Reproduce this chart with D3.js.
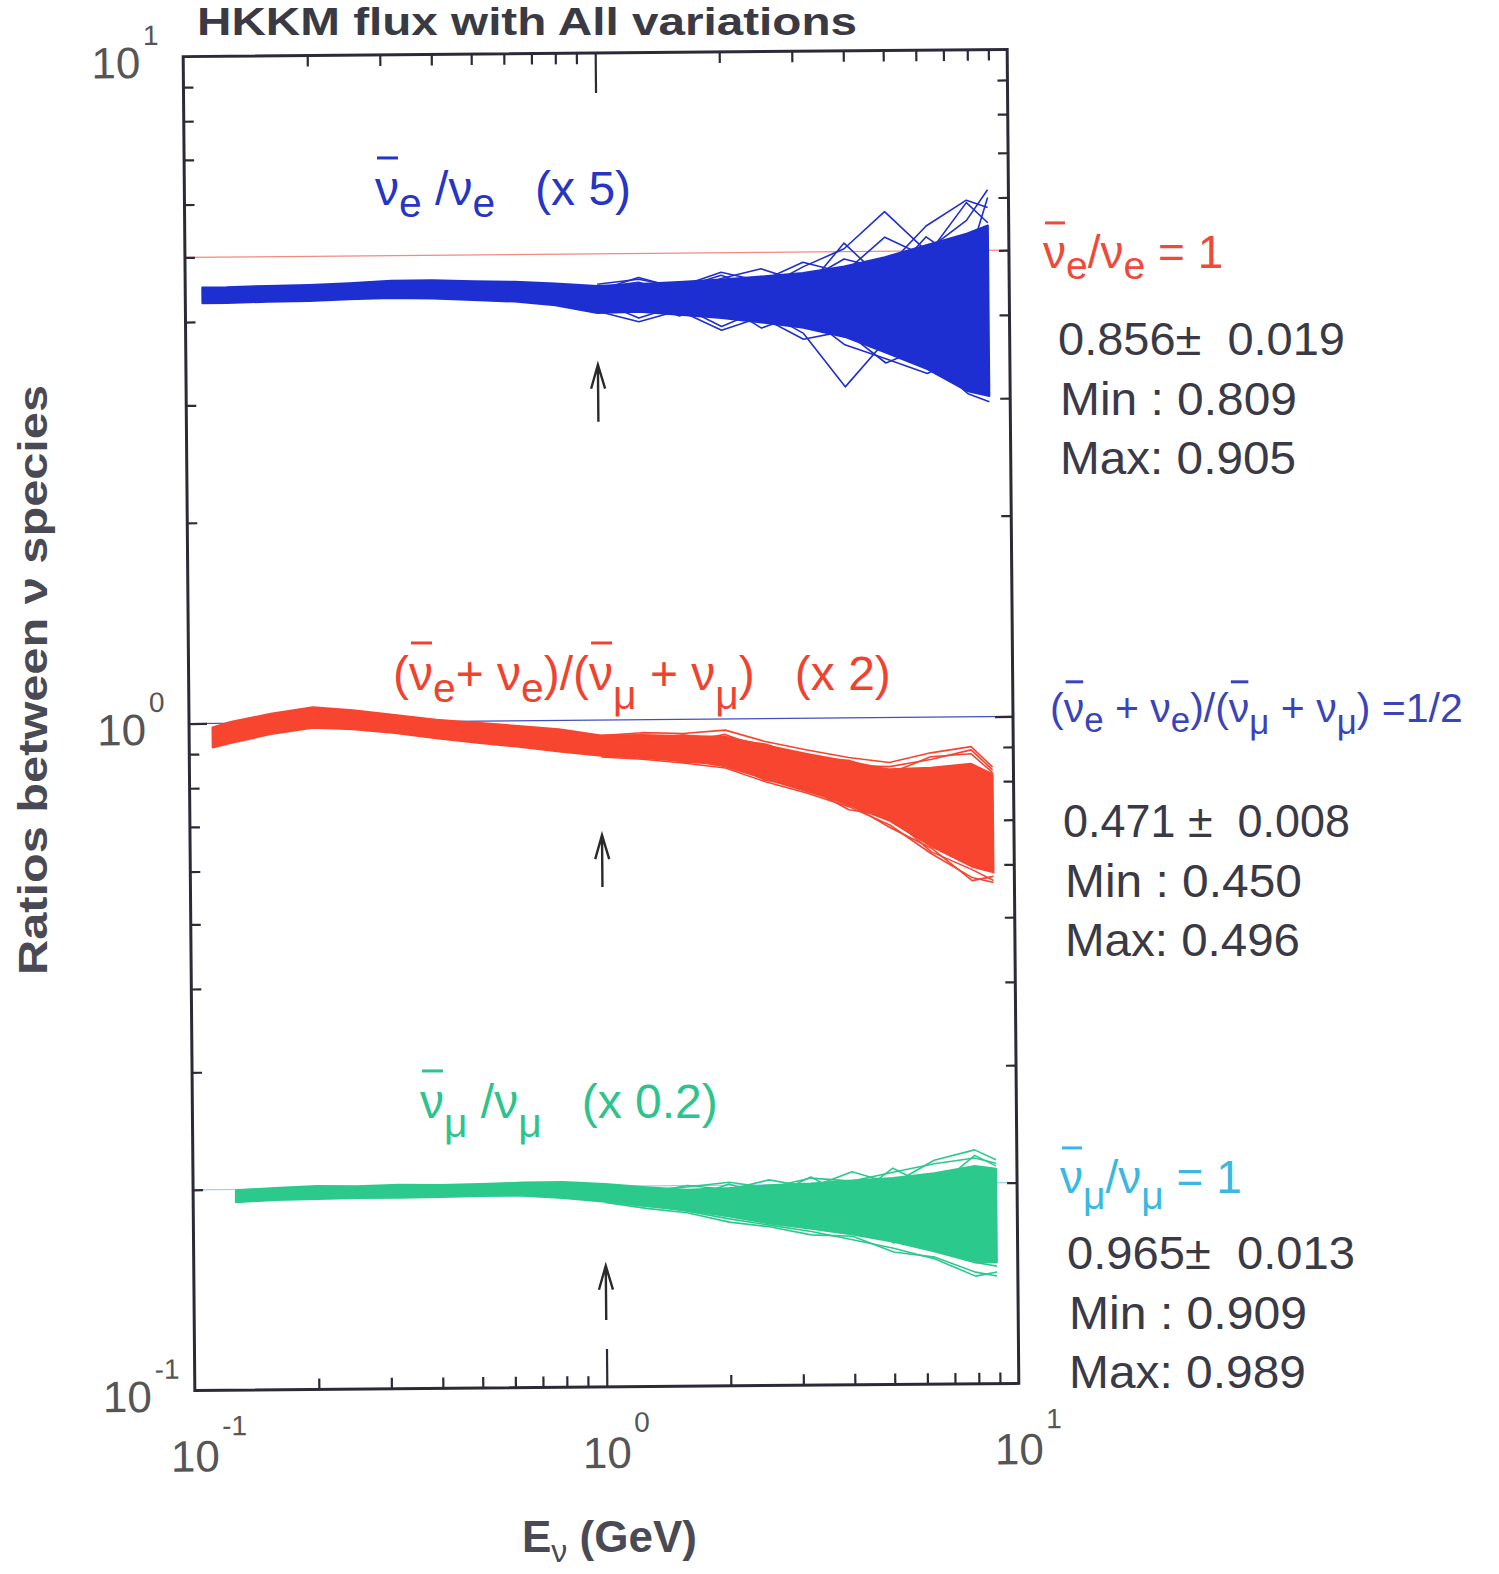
<!DOCTYPE html>
<html>
<head>
<meta charset="utf-8">
<script src="https://cdn.jsdelivr.net/npm/d3@7"></script>
<style>
  body { margin: 0; background: #fff; }
  text { font-family: "Liberation Sans", Arial, sans-serif; white-space: pre; }
</style>
</head>
<body>
<script>
// Energy grids (GeV) for each ratio bundle
const eBlue  = [0.11, 0.126, 0.158, 0.2, 0.25, 0.316, 0.398, 0.5, 0.63, 0.79, 1.0, 1.26, 1.58, 2.0, 2.5, 3.16, 3.98, 5.0, 6.3, 7.9, 8.9];
const eRed   = [0.114, 0.126, 0.158, 0.2, 0.25, 0.316, 0.398, 0.5, 0.63, 0.79, 1.0, 1.26, 1.58, 2.0, 2.5, 3.16, 3.98, 5.0, 6.3, 7.9, 8.9];
const eGreen = [0.127, 0.158, 0.2, 0.25, 0.316, 0.398, 0.5, 0.63, 0.79, 1.0, 1.26, 1.58, 2.0, 2.5, 3.16, 3.98, 5.0, 6.3, 7.9, 8.9];
const eTail  = [1.0, 1.26, 1.58, 2.0, 2.5, 3.16, 3.98, 5.0, 6.3, 7.9, 8.9];

// nue-bar / nue (plotted x 5): dense core plus individual variations at high energy
const blueHi = [0.901, 0.901, 0.904, 0.906, 0.910, 0.917, 0.917, 0.913, 0.910, 0.904, 0.895, 0.900, 0.905, 0.912, 0.920, 0.930, 0.950, 0.980, 1.02, 1.06, 1.09];
const blueLo = [0.853, 0.853, 0.856, 0.857, 0.861, 0.864, 0.861, 0.856, 0.850, 0.838, 0.815, 0.818, 0.808, 0.798, 0.785, 0.770, 0.745, 0.705, 0.665, 0.615, 0.605];
const blueTails = [
  [0.880, 0.920, 0.885, 0.925, 0.880, 0.950, 1.010, 1.147, 1.000, 1.110, 1.233],
  [0.850, 0.800, 0.835, 0.775, 0.820, 0.755, 0.627, 0.735, 0.690, 0.610, 0.593],
  [0.890, 0.905, 0.870, 0.915, 0.945, 0.900, 0.975, 0.940, 1.090, 1.190, 1.160],
  [0.830, 0.850, 0.805, 0.840, 0.770, 0.810, 0.725, 0.690, 0.655, 0.700, 0.620],
  [0.870, 0.845, 0.905, 0.830, 0.890, 0.800, 0.920, 0.790, 0.960, 0.760, 1.050],
  [0.845, 0.880, 0.830, 0.870, 0.810, 0.860, 0.780, 0.880, 0.720, 0.860, 0.650],
  [0.900, 0.915, 0.890, 0.935, 0.905, 0.965, 0.930, 1.050, 0.980, 1.180, 1.100],
  [0.820, 0.790, 0.820, 0.765, 0.800, 0.740, 0.760, 0.680, 0.720, 0.640, 0.700],
  [0.860, 0.890, 0.850, 0.880, 0.920, 0.870, 1.030, 0.900, 1.050, 0.950, 1.200],
  [0.850, 0.830, 0.860, 0.800, 0.830, 0.790, 0.800, 0.740, 0.780, 0.680, 0.620]
];

// (nue-bar + nue) / (numu-bar + numu) (plotted x 2)
const redHi = [0.493, 0.502, 0.516, 0.527, 0.521, 0.512, 0.503, 0.497, 0.491, 0.485, 0.474, 0.474, 0.472, 0.470, 0.456, 0.442, 0.430, 0.418, 0.420, 0.425, 0.410];
const redLo = [0.460, 0.467, 0.481, 0.491, 0.488, 0.481, 0.472, 0.464, 0.457, 0.449, 0.442, 0.438, 0.433, 0.426, 0.407, 0.390, 0.370, 0.350, 0.320, 0.298, 0.292];
const redTails = [
  [0.474, 0.478, 0.476, 0.481, 0.462, 0.448, 0.436, 0.428, 0.442, 0.451, 0.420],
  [0.440, 0.436, 0.430, 0.422, 0.402, 0.386, 0.368, 0.345, 0.312, 0.287, 0.282],
  [0.466, 0.472, 0.462, 0.474, 0.450, 0.440, 0.424, 0.422, 0.432, 0.446, 0.416],
  [0.446, 0.440, 0.436, 0.424, 0.406, 0.388, 0.372, 0.342, 0.318, 0.284, 0.288],
  [0.470, 0.468, 0.474, 0.466, 0.458, 0.436, 0.432, 0.412, 0.436, 0.440, 0.412],
  [0.444, 0.445, 0.431, 0.430, 0.404, 0.394, 0.364, 0.356, 0.314, 0.295, 0.284]
];

// numu-bar / numu (plotted x 0.2)
const greenHi = [0.997, 1.004, 1.009, 1.007, 1.011, 1.009, 1.011, 1.015, 1.016, 1.008, 0.995, 0.985, 0.990, 0.998, 1.003, 1.012, 1.020, 1.035, 1.060, 1.050];
const greenLo = [0.957, 0.963, 0.965, 0.967, 0.967, 0.968, 0.970, 0.970, 0.961, 0.948, 0.932, 0.918, 0.897, 0.875, 0.858, 0.840, 0.818, 0.790, 0.760, 0.760];
const greenTails = [
  [0.990, 0.975, 1.000, 0.985, 1.017, 0.990, 1.043, 1.000, 1.083, 1.121, 1.083],
  [0.950, 0.935, 0.915, 0.890, 0.870, 0.850, 0.825, 0.800, 0.770, 0.725, 0.735],
  [0.975, 0.990, 0.955, 1.004, 0.960, 1.026, 0.950, 1.055, 0.980, 1.100, 1.060],
  [0.960, 0.945, 0.935, 0.905, 0.925, 0.860, 0.900, 0.815, 0.880, 0.760, 0.750],
  [1.000, 0.985, 0.995, 1.010, 0.990, 1.022, 1.010, 1.040, 1.070, 1.090, 1.070],
  [0.945, 0.925, 0.910, 0.880, 0.865, 0.840, 0.835, 0.790, 0.775, 0.735, 0.725]
];

const factors = [5, 2, 0.2];          // (x 5), (x 2), (x 0.2)
const refRatios = [1, 0.5, 1];        // nominal ratio lines
const arrowTips = [3.41, 0.672, 0.152];
const arrowBases = [2.80, 0.562, 0.126];
const arrowE = 1;

const stats = [
  ['0.856\u00b1  0.019', 'Min : 0.809', 'Max: 0.905'],
  ['0.471 \u00b1  0.008', 'Min : 0.450', 'Max: 0.496'],
  ['0.965\u00b1  0.013', 'Min : 0.909', 'Max: 0.989']
];

const decades = [0.1, 1, 10];
const decadeExp = ['-1', '0', '1'];
const minorTicks = [0.2, 0.3, 0.4, 0.5, 0.6, 0.7, 0.8, 0.9, 2, 3, 4, 5, 6, 7, 8, 9];

const W = 1499, H = 1574;
const svg = d3.select('body').append('svg').attr('width', W).attr('height', H);

// the scanned figure is tilted slightly
const plot = svg.append('g').attr('transform', 'rotate(-0.5, 601, 720)');

const x = d3.scaleLog().domain([0.1, 10]).range([189, 1013]);
const y = d3.scaleLog().domain([0.1, 10]).range([1387, 53]);

const groups = [
  { e: eBlue, hi: blueHi, lo: blueLo, tails: blueTails, k: factors[0], color: '#1e2fd2', ref: '#f28a80' },
  { e: eRed, hi: redHi, lo: redLo, tails: redTails, k: factors[1], color: '#f7452f', ref: '#4050c0' },
  { e: eGreen, hi: greenHi, lo: greenLo, tails: greenTails, k: factors[2], color: '#2cc98c', ref: '#8fd6e6' }
];

// reference lines
groups.forEach((g, i) => {
  plot.append('line')
    .attr('x1', x(0.1)).attr('x2', x(10))
    .attr('y1', y(refRatios[i] * g.k)).attr('y2', y(refRatios[i] * g.k))
    .attr('stroke', g.ref).attr('stroke-width', 1.2);
});

// bundles
groups.forEach(g => {
  const rows = g.e.map((e, i) => ({ e, hi: g.hi[i], lo: g.lo[i] }));
  const area = d3.area()
    .x(d => x(d.e))
    .y0(d => y(d.lo * g.k))
    .y1(d => y(d.hi * g.k));
  plot.append('path')
    .attr('d', area(rows))
    .attr('fill', g.color)
    .attr('stroke', g.color)
    .attr('stroke-width', 2)
    .attr('stroke-linejoin', 'round');

  const line = d3.line()
    .x((d, i) => x(eTail[i]))
    .y(d => y(d * g.k));
  plot.selectAll(null)
    .data(g.tails)
    .join('path')
    .attr('d', line)
    .attr('fill', 'none')
    .attr('stroke', g.color)
    .attr('stroke-width', 1.6)
    .attr('stroke-linejoin', 'round');
});

// arrows at 1 GeV
arrowTips.forEach((tip, i) => {
  const ax = x(arrowE), yt = y(tip), yb = y(arrowBases[i]);
  plot.append('path')
    .attr('d', `M${ax},${yb}V${yt}M${ax - 7},${yt + 24}L${ax},${yt}L${ax + 7},${yt + 24}`)
    .attr('fill', 'none').attr('stroke', '#2a2a2a').attr('stroke-width', 2.4);
});

// axes: inward ticks on all four sides
function styleAxis(sel) {
  sel.select('.domain').remove();
  sel.selectAll('.tick line').attr('stroke', '#2b2b38').attr('stroke-width', 2.2);
}
const axisDefs = [
  [d3.axisBottom(x), `translate(0,${y(0.1)})`, 11, 38, [1]],
  [d3.axisTop(x), `translate(0,${y(10)})`, 11, 40, [1]],
  [d3.axisLeft(y), `translate(${x(0.1)},0)`, 10, 18, [1]],
  [d3.axisRight(y), `translate(${x(10)},0)`, 10, 18, [1]]
];
axisDefs.forEach(([ax, tr, minor, major, majVals]) => {
  plot.append('g').attr('transform', tr)
    .call(ax.tickValues(minorTicks).tickSize(-minor).tickFormat(''))
    .call(styleAxis);
  plot.append('g').attr('transform', tr)
    .call(ax.tickValues(majVals).tickSize(-major).tickFormat(''))
    .call(styleAxis);
});

plot.append('rect')
  .attr('x', x(0.1)).attr('y', y(10))
  .attr('width', x(10) - x(0.1)).attr('height', y(0.1) - y(10))
  .attr('fill', 'none').attr('stroke', '#2b2b38').attr('stroke-width', 3);

// tick labels
decades.forEach((v, i) => {
  const lx = x(v), ly = y(0.1) + 81;
  plot.append('text').attr('x', lx).attr('y', ly).attr('text-anchor', 'middle')
    .attr('font-size', 44).attr('fill', '#555').text('10');
  plot.append('text').attr('x', lx + 27).attr('y', ly - 36)
    .attr('font-size', 28).attr('fill', '#555').text(decadeExp[i]);

  const tx = x(0.1) - 43, ty = y(v) + 21;
  plot.append('text').attr('x', tx).attr('y', ty).attr('text-anchor', 'end')
    .attr('font-size', 44).attr('fill', '#555').text('10');
  plot.append('text').attr('x', tx + 3).attr('y', ty - 33)
    .attr('font-size', 28).attr('fill', '#555').text(decadeExp[i]);
});

// text with subscripts and overbars
function mathLabel(parent, lx, ly, parts, size, color) {
  const t = parent.append('text').attr('x', lx).attr('y', ly)
    .attr('font-size', size).attr('fill', color);
  let cur = 0;
  const bars = [];
  parts.forEach(p => {
    const off = p.sub ? size * (p.drop || 0.24) : 0;
    const ts = t.append('tspan').attr('dy', off - cur).text(p.t);
    cur = off;
    if (p.sub) ts.attr('font-size', size * 0.85);
    if (p.bar) bars.push(ts);
  });
  bars.forEach(ts => {
    const b = ts.node().getBBox();
    parent.append('line')
      .attr('x1', b.x + 2).attr('x2', b.x + b.width - 1)
      .attr('y1', ly - size * 0.98).attr('y2', ly - size * 0.98)
      .attr('stroke', color).attr('stroke-width', 3);
  });
  return t;
}

const NU = '\u03bd', MU = '\u03bc';
const anno = svg.append('g');

mathLabel(anno, 375, 205, [
  { t: NU, bar: true }, { t: 'e', sub: true }, { t: ' /' }, { t: NU }, { t: 'e', sub: true }, { t: '   (x 5)' }
], 48, '#2535c6');

mathLabel(anno, 393, 690, [
  { t: '(' }, { t: NU, bar: true }, { t: 'e', sub: true }, { t: '+ ' }, { t: NU }, { t: 'e', sub: true },
  { t: ')/(' }, { t: NU, bar: true }, { t: MU, sub: true, drop: 0.4 }, { t: ' + ' }, { t: NU },
  { t: MU, sub: true, drop: 0.4 }, { t: ')   (x 2)' }
], 48, '#f0432f');

mathLabel(anno, 420, 1118, [
  { t: NU, bar: true }, { t: MU, sub: true, drop: 0.4 }, { t: ' /' }, { t: NU }, { t: MU, sub: true, drop: 0.4 }, { t: '   (x 0.2)' }
], 48, '#2cc48c');

mathLabel(anno, 1043, 268, [
  { t: NU, bar: true }, { t: 'e', sub: true }, { t: '/' }, { t: NU }, { t: 'e', sub: true }, { t: ' = 1' }
], 46, '#ee4a3c');

mathLabel(anno, 1050, 722, [
  { t: '(' }, { t: NU, bar: true }, { t: 'e', sub: true }, { t: ' + ' }, { t: NU }, { t: 'e', sub: true },
  { t: ')/(' }, { t: NU, bar: true }, { t: MU, sub: true, drop: 0.3 }, { t: ' + ' }, { t: NU },
  { t: MU, sub: true, drop: 0.3 }, { t: ') =1/2' }
], 41, '#3a44b8');

mathLabel(anno, 1060, 1193, [
  { t: NU, bar: true }, { t: MU, sub: true, drop: 0.35 }, { t: '/' }, { t: NU }, { t: MU, sub: true, drop: 0.35 }, { t: ' = 1' }
], 46, '#3ab8e2');

// statistics blocks
const statPos = [[1058, 355], [1063, 837], [1067, 1269]];
const statWidths = [[287, 237, 236], [287, 237, 235], [288, 238, 237]];
stats.forEach((block, i) => {
  block.forEach((s, j) => {
    anno.append('text')
      .attr('x', statPos[i][0] + (j ? 2 : 0)).attr('y', statPos[i][1] + j * 59.5)
      .attr('font-size', 46).attr('fill', '#3a3a46')
      .attr('textLength', statWidths[i][j]).attr('lengthAdjust', 'spacingAndGlyphs')
      .text(s);
  });
});

// title and axis titles
anno.append('text').attr('x', 197).attr('y', 35)
  .attr('font-size', 38).attr('font-weight', 'bold').attr('fill', '#3a3a44')
  .attr('textLength', 660).attr('lengthAdjust', 'spacingAndGlyphs')
  .text('HKKM flux with All variations');

anno.append('text')
  .attr('transform', 'translate(47,680) rotate(-90)')
  .attr('text-anchor', 'middle')
  .attr('font-size', 40).attr('font-weight', 'bold').attr('fill', '#4a4a55')
  .attr('textLength', 590).attr('lengthAdjust', 'spacingAndGlyphs')
  .text('Ratios between ' + NU + ' species');

const xt = anno.append('text').attr('x', 522).attr('y', 1552)
  .attr('font-size', 44).attr('font-weight', 'bold').attr('fill', '#4a4a55');
xt.append('tspan').text('E');
xt.append('tspan').attr('dy', 10).attr('font-size', 32).attr('font-weight', 'normal').text(NU);
xt.append('tspan').attr('dy', -10).text(' (GeV)');
</script>
</body>
</html>
